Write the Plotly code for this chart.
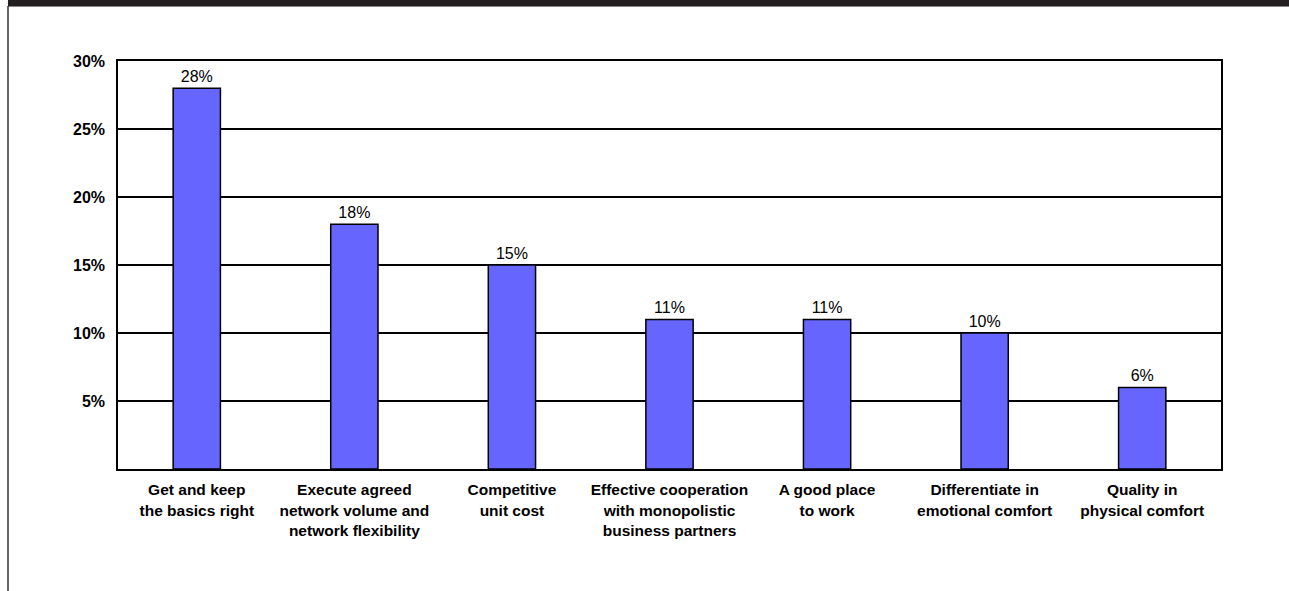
import plotly.graph_objects as go

categories = [
    "Get and keep<br>the basics right",
    "Execute agreed<br>network volume and<br>network flexibility",
    "Competitive<br>unit cost",
    "Effective cooperation<br>with monopolistic<br>business partners",
    "A good place<br>to work",
    "Differentiate in<br>emotional comfort",
    "Quality in<br>physical comfort",
]
values = [28, 18, 15, 11, 11, 10, 6]
tick_vals = [5, 10, 15, 20, 25, 30]
tick_text = ["5%", "10%", "15%", "20%", "25%", "30%"]

W, H = 1289, 591
L, R, T, B = 118, 68, 61, 122
pw, ph = W - L - R, H - T - B

def px_x(px):
    return (px - L) / pw

def px_y(py):
    return (H - B - py) / ph

FONT = "Liberation Sans, Arial"

fig = go.Figure()
fig.add_trace(go.Bar(
    x=categories,
    y=values,
    width=0.3,
    marker=dict(color="#6666FF", line=dict(color="black", width=1.5)),
    text=[f"{v}%" for v in values],
    textposition="outside",
    textfont=dict(family=FONT, size=16, color="black"),
    cliponaxis=False,
))

fig.update_layout(
    width=W, height=H,
    margin=dict(l=L, r=R, t=T, b=B),
    paper_bgcolor="white",
    plot_bgcolor="white",
    showlegend=False,
    font=dict(family=FONT, color="black"),
    xaxis=dict(
        showline=True, linecolor="black", linewidth=1.5, mirror=True,
        tickfont=dict(family=FONT, size=15.5, color="black", weight="bold"),
        ticks="", showgrid=False, ticklabelstandoff=6,
    ),
    yaxis=dict(
        range=[0, 30],
        tickvals=tick_vals, ticktext=tick_text,
        showline=True, linecolor="black", linewidth=1.5, mirror=True,
        showgrid=True, gridcolor="black", gridwidth=1.5,
        tickfont=dict(family=FONT, size=16, color="black", weight="bold"),
        ticks="", ticklen=0, ticklabelstandoff=8,
    ),
    shapes=[
        dict(type="rect", xref="paper", yref="paper",
             x0=px_x(8), x1=px_x(W + 5), y0=px_y(6), y1=px_y(-5),
             fillcolor="#231F20", line=dict(width=0), layer="above"),
        dict(type="line", xref="paper", yref="paper",
             x0=px_x(8), x1=px_x(W + 5), y0=px_y(6.5), y1=px_y(6.5),
             line=dict(color="#888888", width=1)),
        dict(type="line", xref="paper", yref="paper",
             x0=px_x(8), x1=px_x(8), y0=px_y(6), y1=px_y(H + 5),
             line=dict(color="#333333", width=1.5)),
    ],
)

fig.write_html("out.html", config={"displayModeBar": False})

with open("out.html", "r", encoding="utf-8") as f:
    html = f.read()
html = html.replace("<head>", "<head><style>html,body{margin:0;padding:0;overflow:hidden;}</style>", 1)
with open("out.html", "w", encoding="utf-8") as f:
    f.write(html)
